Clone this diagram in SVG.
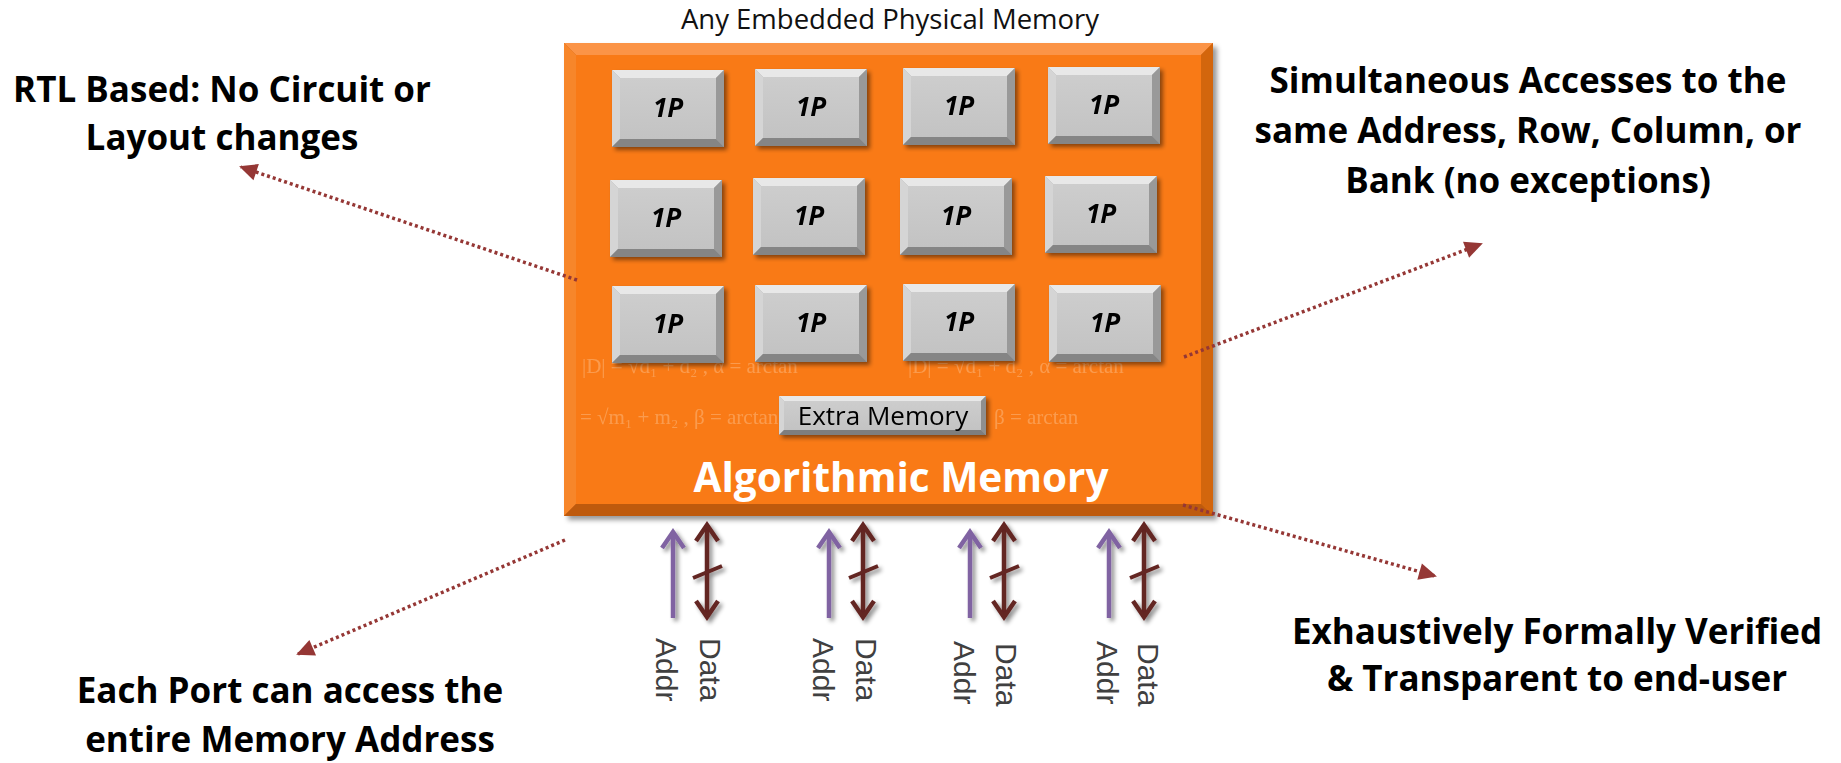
<svg xmlns="http://www.w3.org/2000/svg" xmlns:xlink="http://www.w3.org/1999/xlink" width="1841" height="763" viewBox="0 0 1841 763">
<style>
.note{font-family:"Open Sans","Liberation Sans",sans-serif;font-weight:700;font-size:35px;fill:#000;text-anchor:middle}
.title{font-family:"Open Sans","Liberation Sans",sans-serif;font-size:27.5px;fill:#111;text-anchor:middle}
.onep{font-family:"Open Sans","Liberation Sans",sans-serif;font-weight:700;font-style:italic;font-size:26px;fill:#000;text-anchor:middle}
.extra{font-family:"Open Sans","Liberation Sans",sans-serif;font-size:26px;fill:#000;text-anchor:middle}
.algo{font-family:"Open Sans","Liberation Sans",sans-serif;font-weight:700;font-size:40.5px;fill:#fff;text-anchor:middle}
.wm{font-family:"Liberation Serif","DejaVu Serif",serif;font-size:21px;fill:#FFE2C4;opacity:0.32}
.port{font-family:"Liberation Sans",Arial,sans-serif;font-size:30px;fill:#404040}
.dot{fill:none;stroke:#953735;stroke-width:3.5;stroke-dasharray:3 3;marker-end:url(#dotHead)}
.addr{stroke:#8064A2;stroke-width:4.5;fill:none;marker-end:url(#openP)}
.data{stroke:#632523;stroke-width:4.5;fill:none;marker-start:url(#openR);marker-end:url(#openR)}
.slash{stroke:#632523;stroke-width:4;fill:none}
</style>
<defs>
<filter id="sh" x="-20%" y="-20%" width="140%" height="140%">
<feDropShadow dx="3" dy="3" stdDeviation="2" flood-color="#000" flood-opacity="0.45"/>
</filter>
<filter id="shBig" x="-5%" y="-5%" width="110%" height="110%">
<feDropShadow dx="4" dy="4" stdDeviation="2.5" flood-color="#000" flood-opacity="0.4"/>
</filter>
<linearGradient id="face" x1="0" y1="0" x2="0" y2="1">
<stop offset="0" stop-color="#CDCDCD"/><stop offset="1" stop-color="#C3C3C3"/>
</linearGradient>
<marker id="dotHead" markerUnits="userSpaceOnUse" markerWidth="20" markerHeight="20" refX="0" refY="0" orient="auto" overflow="visible">
<path d="M2,0 L-16,-8.5 L-16,8.5 Z" fill="#953735"/>
</marker>
<marker id="openP" markerUnits="userSpaceOnUse" markerWidth="20" markerHeight="20" refX="0" refY="0" orient="auto-start-reverse" overflow="visible">
<path d="M-16,-11 L0,0 L-16,11" fill="none" stroke="#8064A2" stroke-width="4.5"/>
</marker>
<marker id="openR" markerUnits="userSpaceOnUse" markerWidth="20" markerHeight="20" refX="0" refY="0" orient="auto-start-reverse" overflow="visible">
<path d="M-16,-11 L0,0 L-16,11" fill="none" stroke="#632523" stroke-width="4.5"/>
</marker>
<g id="pbox">
<rect x="0" y="0" width="112" height="77" fill="#A8A8A8"/>
<polygon points="0,0 112,0 104,8 8,8" fill="#E8E8E8"/>
<polygon points="0,0 8,8 8,69 0,77" fill="#D5D5D5"/>
<polygon points="112,0 112,77 104,69 104,8" fill="#999999"/>
<polygon points="0,77 112,77 104,69 8,69" fill="#858585"/>
<rect x="8" y="8" width="96" height="61" fill="url(#face)"/>
</g>
<g id="ebox">
<rect x="0" y="0" width="207" height="39" fill="#A8A8A8"/>
<polygon points="0,0 207,0 202,5 5,5" fill="#E8E8E8"/>
<polygon points="0,0 5,5 5,34 0,39" fill="#D5D5D5"/>
<polygon points="207,0 207,39 202,34 202,5" fill="#8F8F8F"/>
<polygon points="0,39 207,39 202,34 5,34" fill="#7E7E7E"/>
<rect x="5" y="5" width="197" height="29" fill="url(#face)"/>
</g>
</defs>
<rect x="0" y="0" width="1841" height="763" fill="#fff"/>

<g id="title">
<text class="title" x="890" y="29">Any Embedded Physical Memory</text>
</g>

<g id="memory-block">
<g filter="url(#shBig)">
<rect x="564" y="43" width="649" height="473" fill="#C9600E"/>
<polygon points="564,43 1213,43 1201,55 576,55" fill="#FB9446"/>
<polygon points="564,43 576,55 576,504 564,516" fill="#F7862C"/>
<polygon points="1213,43 1213,516 1201,504 1201,55" fill="#D3660F"/>
<polygon points="564,516 1213,516 1201,504 576,504" fill="#BE5A0B"/>
<rect x="576" y="55" width="625" height="449" fill="#F97A12"/>
</g>
<g id="watermark">
<text class="wm" x="582" y="373">|D| = √d₁ + d₂ ,  α = arctan</text>
<text class="wm" x="908" y="373">|D| = √d₁ + d₂ ,  α = arctan</text>
<text class="wm" x="580" y="424">= √m₁ + m₂ ,  β = arctan</text>
<text class="wm" x="994" y="424">β = arctan</text>
</g>
<text class="algo" x="901" y="492">Algorithmic Memory</text>
</g>

<g id="bank-r1c1" filter="url(#sh)"><use href="#pbox" x="612" y="70"/><text class="onep" x="668" y="117">1P</text></g>
<g id="bank-r1c2" filter="url(#sh)"><use href="#pbox" x="755" y="69"/><text class="onep" x="811" y="116">1P</text></g>
<g id="bank-r1c3" filter="url(#sh)"><use href="#pbox" x="903" y="68"/><text class="onep" x="959" y="115">1P</text></g>
<g id="bank-r1c4" filter="url(#sh)"><use href="#pbox" x="1048" y="67"/><text class="onep" x="1104" y="114">1P</text></g>

<g id="bank-r2c1" filter="url(#sh)"><use href="#pbox" x="610" y="180"/><text class="onep" x="666" y="227">1P</text></g>
<g id="bank-r2c2" filter="url(#sh)"><use href="#pbox" x="753" y="178"/><text class="onep" x="809" y="225">1P</text></g>
<g id="bank-r2c3" filter="url(#sh)"><use href="#pbox" x="900" y="178"/><text class="onep" x="956" y="225">1P</text></g>
<g id="bank-r2c4" filter="url(#sh)"><use href="#pbox" x="1045" y="176"/><text class="onep" x="1101" y="223">1P</text></g>

<g id="bank-r3c1" filter="url(#sh)"><use href="#pbox" x="612" y="286"/><text class="onep" x="668" y="333">1P</text></g>
<g id="bank-r3c2" filter="url(#sh)"><use href="#pbox" x="755" y="285"/><text class="onep" x="811" y="332">1P</text></g>
<g id="bank-r3c3" filter="url(#sh)"><use href="#pbox" x="903" y="284"/><text class="onep" x="959" y="331">1P</text></g>
<g id="bank-r3c4" filter="url(#sh)"><use href="#pbox" x="1049" y="285"/><text class="onep" x="1105" y="332">1P</text></g>

<g id="extra-memory" filter="url(#sh)">
<use href="#ebox" x="779" y="396"/>
<text class="extra" x="883" y="425">Extra Memory</text>
</g>

<g id="note-rtl">
<text class="note" x="222" y="102">RTL Based: No Circuit or</text>
<text class="note" x="222" y="150">Layout changes</text>
</g>
<g id="note-simultaneous">
<text class="note" x="1528" y="93">Simultaneous Accesses to the</text>
<text class="note" x="1528" y="143">same Address, Row, Column, or</text>
<text class="note" x="1528" y="193">Bank (no exceptions)</text>
</g>
<g id="note-ports">
<text class="note" x="290" y="703">Each Port can access the</text>
<text class="note" x="290" y="752">entire Memory Address</text>
</g>
<g id="note-verified">
<text class="note" x="1557" y="644">Exhaustively Formally Verified</text>
<text class="note" x="1557" y="691">&amp; Transparent to end-user</text>
</g>

<g id="port-labels">
<text class="port" transform="translate(656,638) rotate(90)">Addr</text>
<text class="port" transform="translate(700,638) rotate(90)">Data</text>
<text class="port" transform="translate(813,638) rotate(90)">Addr</text>
<text class="port" transform="translate(856,638) rotate(90)">Data</text>
<text class="port" transform="translate(954,641) rotate(90)">Addr</text>
<text class="port" transform="translate(996,643) rotate(90)">Data</text>
<text class="port" transform="translate(1097,641) rotate(90)">Addr</text>
<text class="port" transform="translate(1138,643) rotate(90)">Data</text>
</g>

<g id="connectors">
<path class="dot" d="M577,280 L241,167"/>
<path class="dot" d="M1184,357 L1481,244"/>
<path class="dot" d="M565,540 L298,654"/>
<path class="dot" d="M1183,505 L1435,576"/>
<g id="ports" filter="url(#sh)">
<path class="addr" d="M673,618 L673,532"/>
<path class="data" d="M707,617 L707,525"/>
<path class="slash" d="M693,578 L722,566"/>
<path class="addr" d="M829,618 L829,532"/>
<path class="data" d="M863,617 L863,525"/>
<path class="slash" d="M849,578 L878,566"/>
<path class="addr" d="M970,618 L970,532"/>
<path class="data" d="M1004,617 L1004,525"/>
<path class="slash" d="M990,578 L1019,566"/>
<path class="addr" d="M1109,618 L1109,532"/>
<path class="data" d="M1144,617 L1144,525"/>
<path class="slash" d="M1130,578 L1159,566"/>
</g>
</g>
</svg>
